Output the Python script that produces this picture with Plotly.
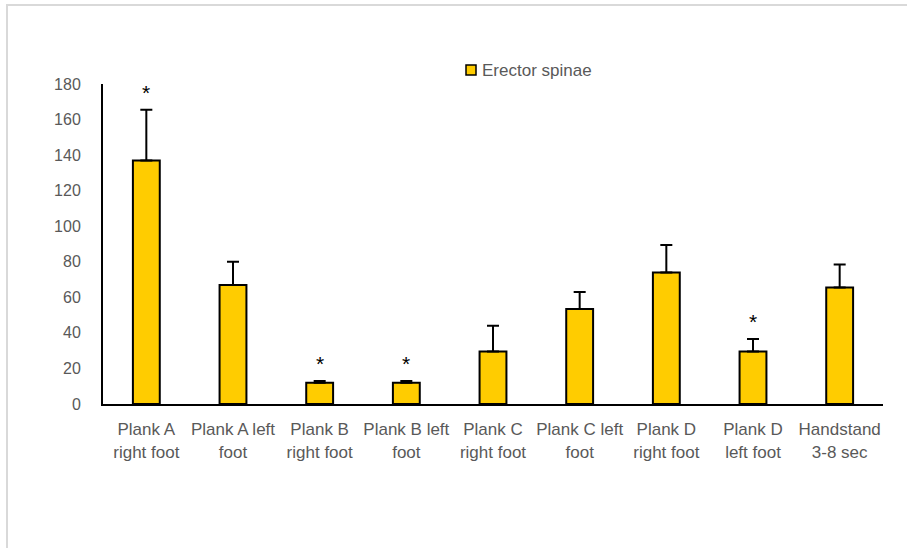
import plotly.graph_objects as go

# Exercise categories (x axis) and erector spinae activation (mean, SD)
categories = [
    "Plank A<br>right foot", "Plank A left<br>foot", "Plank B<br>right foot",
    "Plank B left<br>foot", "Plank C<br>right foot", "Plank C left<br>foot",
    "Plank D<br>right foot", "Plank D<br>left foot", "Handstand<br>3-8 sec",
]
values = [137, 67, 12, 12, 29.5, 53.5, 74, 29.5, 65.5]
errors = [28.5, 13, 1, 1, 14.5, 9.5, 15.5, 7, 13]
significant = [True, False, True, True, False, False, False, True, False]
y_ticks = [0, 20, 40, 60, 80, 100, 120, 140, 160, 180]

series_name = "Erector spinae"
bar_color = "#FFCC00"
text_color = "#595959"
font_family = "Liberation Sans, Arial, sans-serif"

W, H = 907, 548
ML, MR, MT, MB = 103, 24, 84, 144
PW, PH = W - ML - MR, H - MT - MB


def px_x(px):
    return (px - ML) / PW


def px_y(py):
    return (H - MB - py) / PH


fig = go.Figure()
fig.add_trace(go.Bar(
    x=categories,
    y=values,
    name=series_name,
    marker=dict(color=bar_color, line=dict(color="black", width=2)),
    error_y=dict(type="data", array=errors, symmetric=False,
                 arrayminus=[0] * len(errors),
                 color="black", thickness=2, width=6),
    showlegend=False,
))

# Significance markers above the error bars
annotations = []
for cat, v, e, sig in zip(categories, values, errors, significant):
    if sig:
        annotations.append(dict(
            x=cat, y=v + e, xref="x", yref="y", text="*", showarrow=False,
            yanchor="bottom", yshift=4,
            font=dict(family=font_family, size=21, color="black"),
        ))

# Legend entry
annotations.append(dict(
    x=px_x(480), y=px_y(70.5), xref="paper", yref="paper",
    text=series_name, showarrow=False, xanchor="left", yanchor="middle",
    font=dict(family=font_family, size=17, color=text_color),
))

shapes = [
    # legend swatch
    dict(type="rect", xref="paper", yref="paper",
         x0=px_x(466), x1=px_x(476), y0=px_y(75), y1=px_y(65),
         fillcolor=bar_color, line=dict(color="black", width=1.5)),
    # outer chart frame
    dict(type="rect", xref="paper", yref="paper",
         x0=px_x(7), x1=px_x(930), y0=px_y(570), y1=px_y(5),
         fillcolor="rgba(0,0,0,0)", line=dict(color="#d9d9d9", width=2),
         layer="below"),
]

fig.update_layout(
    width=W, height=H,
    margin=dict(l=ML, r=MR, t=MT, b=MB),
    paper_bgcolor="white", plot_bgcolor="white",
    bargap=0.69,
    font=dict(family=font_family, size=16, color=text_color),
    annotations=annotations,
    shapes=shapes,
)
fig.update_xaxes(
    showline=True, linecolor="black", linewidth=2, showgrid=False,
    ticks="", tickfont=dict(size=17, color=text_color),
    ticklabelstandoff=9,
)
fig.update_yaxes(
    range=[0, 180], tickvals=y_ticks, showline=True, linecolor="black",
    linewidth=2, showgrid=False, zeroline=False, ticks="",
    tickfont=dict(size=16, color=text_color), ticklabelstandoff=17,
)

fig.write_html("out.html")
